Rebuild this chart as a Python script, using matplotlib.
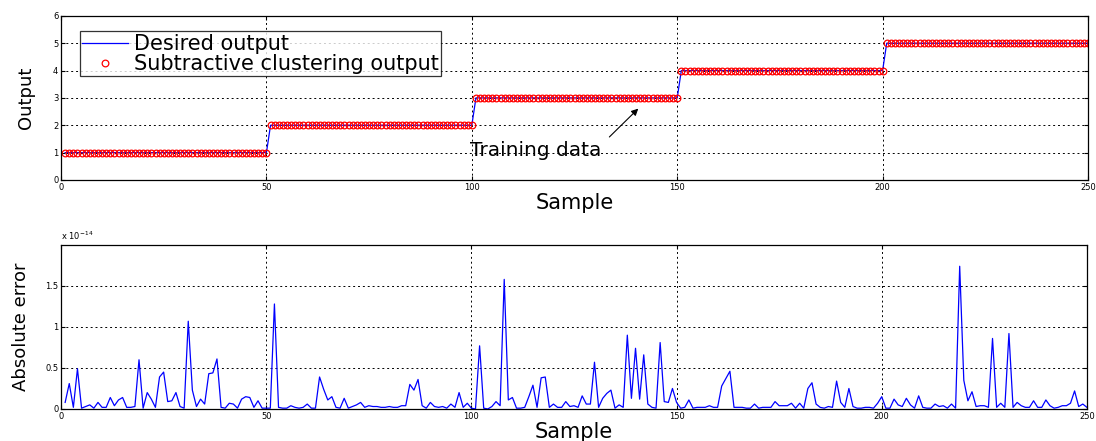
import matplotlib
matplotlib.use("Agg")
import matplotlib.pyplot as plt
import numpy as np
from matplotlib.ticker import FuncFormatter

plt.rcParams['font.family'] = ['DejaVu Sans']

# output levels of the five operating regions, 50 samples each
levels = [1, 2, 3, 4, 5]
samples_per_level = 50

# absolute error between desired and clustering output (x 1e-14)
abs_error = [
    0.08, 0.31, 0.02, 0.49, 0.01, 0.03, 0.05, 0.01, 0.08, 0.02,
    0.02, 0.14, 0.04, 0.11, 0.14, 0.02, 0.02, 0.03, 0.60, 0.01,
    0.20, 0.12, 0.02, 0.39, 0.45, 0.09, 0.10, 0.20, 0.03, 0.01,
    1.07, 0.23, 0.03, 0.12, 0.06, 0.43, 0.44, 0.61, 0.02, 0.01,
    0.07, 0.06, 0.01, 0.12, 0.15, 0.14, 0.02, 0.10, 0.01, 0.01,
    0.01, 1.28, 0.02, 0.01, 0.01, 0.04, 0.02, 0.01, 0.02, 0.06,
    0.01, 0.01, 0.39, 0.24, 0.11, 0.15, 0.02, 0.01, 0.13, 0.01,
    0.03, 0.05, 0.08, 0.02, 0.04, 0.03, 0.03, 0.02, 0.02, 0.03,
    0.02, 0.02, 0.04, 0.04, 0.30, 0.23, 0.36, 0.04, 0.01, 0.08,
    0.03, 0.02, 0.03, 0.01, 0.06, 0.02, 0.20, 0.02, 0.07, 0.01,
    0.00, 0.77, 0.01, 0.00, 0.03, 0.09, 0.04, 1.58, 0.11, 0.14,
    0.01, 0.01, 0.02, 0.15, 0.29, 0.02, 0.38, 0.39, 0.02, 0.06,
    0.02, 0.02, 0.09, 0.03, 0.04, 0.02, 0.16, 0.06, 0.06, 0.57,
    0.02, 0.13, 0.19, 0.23, 0.01, 0.05, 0.02, 0.90, 0.13, 0.74,
    0.12, 0.66, 0.06, 0.02, 0.01, 0.81, 0.09, 0.08, 0.25, 0.08,
    0.01, 0.02, 0.11, 0.01, 0.02, 0.02, 0.02, 0.04, 0.02, 0.02,
    0.28, 0.37, 0.46, 0.02, 0.02, 0.02, 0.01, 0.01, 0.06, 0.01,
    0.02, 0.02, 0.02, 0.09, 0.04, 0.04, 0.04, 0.07, 0.01, 0.07,
    0.01, 0.25, 0.32, 0.06, 0.02, 0.01, 0.03, 0.02, 0.34, 0.08,
    0.02, 0.25, 0.03, 0.01, 0.01, 0.02, 0.02, 0.01, 0.07, 0.15,
    0.01, 0.01, 0.12, 0.05, 0.03, 0.13, 0.05, 0.01, 0.16, 0.02,
    0.01, 0.01, 0.06, 0.03, 0.04, 0.01, 0.06, 0.01, 1.74, 0.35,
    0.10, 0.21, 0.03, 0.04, 0.04, 0.02, 0.86, 0.02, 0.07, 0.02,
    0.92, 0.02, 0.08, 0.04, 0.02, 0.02, 0.10, 0.02, 0.02, 0.11,
    0.04, 0.01, 0.02, 0.04, 0.04, 0.07, 0.22, 0.03, 0.06, 0.02,
]

desired = np.repeat(levels, samples_per_level).astype(float)
sample = np.arange(1, len(desired) + 1)
err = np.array(abs_error) * 1e-14
clustering = desired + err

fig = plt.figure(figsize=(10.96, 4.41), dpi=100)
ax1 = fig.add_axes([0.0557, 0.592, 0.937, 0.372])
ax2 = fig.add_axes([0.0557, 0.0726, 0.936, 0.372])

def matlab_style(ax):
    ax.grid(True, color='black', linestyle=(0, (2, 3)), linewidth=0.7)
    ax.set_axisbelow(True)
    ax.tick_params(direction='in', top=True, right=True, length=3,
                   labelsize=6, width=0.8, pad=2)
    for sp in ax.spines.values():
        sp.set_linewidth(0.9)
    ax.set_xlim(0, 250)
    ax.set_xticks(np.arange(0, 251, 50))

# -- top: desired vs subtractive clustering output
ax1.plot(sample, desired, color='blue', linewidth=0.9, label='Desired output')
ax1.plot(sample, clustering, linestyle='none', marker='o', markersize=4.8,
         markerfacecolor='none', markeredgecolor='red', markeredgewidth=0.9,
         label='Subtractive clustering output')
matlab_style(ax1)
ax1.set_ylim(0, 6)
ax1.set_yticks(range(0, 7))
ax1.set_xlabel('Sample', fontsize=15, labelpad=1)
ax1.set_ylabel('Output', fontsize=13, labelpad=13)
leg = ax1.legend(loc='upper left', bbox_to_anchor=(0.018, 0.905), fontsize=15,
                 frameon=True, fancybox=False, edgecolor='black',
                 handlelength=2.2, handletextpad=0.3, borderpad=0.12,
                 labelspacing=0.0, borderaxespad=0)
leg.get_frame().set_linewidth(0.9)
ax1.annotate('', xy=(141, 2.68), xytext=(133, 1.5),
             arrowprops=dict(arrowstyle='-|>', color='black', lw=0.8,
                             mutation_scale=10))
ax1.text(115.5, 1.08, 'Training data', fontsize=14.5, ha='center', va='center')

# -- bottom: absolute error
ax2.plot(sample, err, color='blue', linewidth=0.9)
matlab_style(ax2)
ax2.set_ylim(0, 2e-14)
ax2.set_yticks([0, 0.5e-14, 1e-14, 1.5e-14])
ax2.yaxis.set_major_formatter(FuncFormatter(lambda v, pos: '%g' % round(v / 1e-14, 2)))
ax2.text(0, 1.015, r'x 10$^{-14}$', transform=ax2.transAxes, fontsize=6,
         ha='left', va='bottom')
ax2.set_xlabel('Sample', fontsize=15, labelpad=1)
ax2.set_ylabel('Absolute error', fontsize=13, labelpad=11)

fig.savefig('out.png', dpi=100)
